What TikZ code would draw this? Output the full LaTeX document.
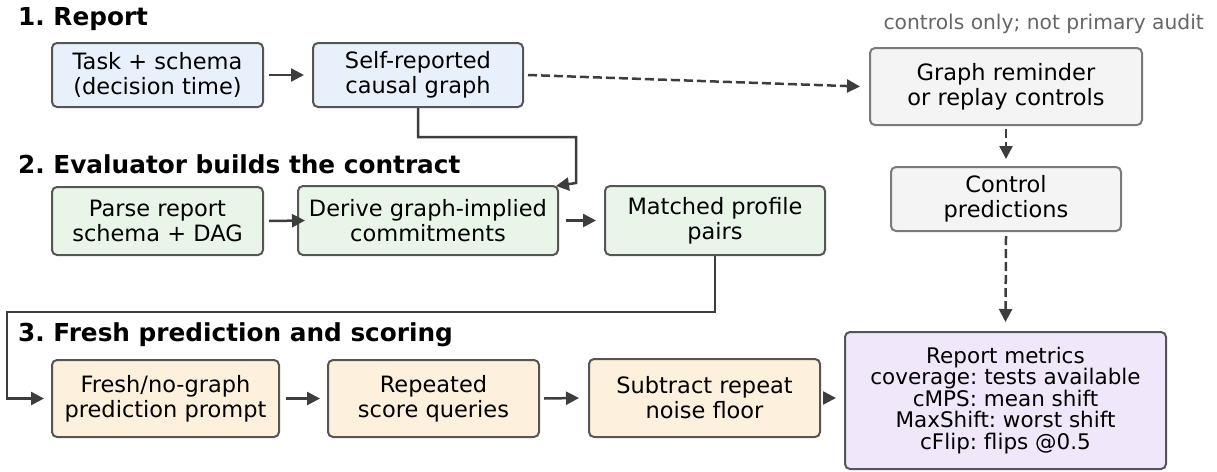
\documentclass[tikz,border=0pt]{standalone}
\usepackage{fontspec}
\setmainfont{DejaVu Sans}
\usetikzlibrary{arrows.meta}
\definecolor{bluefill}{HTML}{E8F1FB}
\definecolor{greenfill}{HTML}{E9F5E9}
\definecolor{orangefill}{HTML}{FDF0DC}
\definecolor{grayfill}{HTML}{F4F4F4}
\definecolor{purplefill}{HTML}{F0E8FA}
\definecolor{boxline}{HTML}{555555}
\definecolor{grayline}{HTML}{7A7A7A}
\definecolor{arrowcol}{HTML}{3D3D3D}
\definecolor{notecol}{HTML}{666666}
\frenchspacing
\begin{document}
\begin{tikzpicture}[x=1pt,y=-1pt,
  stagebox/.style={draw=boxline, line width=2pt, rounded corners=5pt, align=center,
    inner sep=0pt, font=\fontsize{22.5}{25}\selectfont},
  bluebox/.style={stagebox, fill=bluefill},
  greenbox/.style={stagebox, fill=greenfill},
  orangebox/.style={stagebox, fill=orangefill},
  graybox/.style={stagebox, fill=grayfill, draw=grayline},
  purplebox/.style={stagebox, fill=purplefill, font=\fontsize{21.5}{21.5}\selectfont},
  title/.style={font=\fontsize{24.75}{28}\selectfont\bfseries, anchor=base west, inner sep=0pt},
  note/.style={font=\fontsize{20.25}{24}\selectfont, text=notecol, anchor=base east, inner sep=0pt},
  arr/.style={draw=arrowcol, line width=2.5pt, -{Triangle[length=13pt,width=13pt]}},
  darr/.style={arr, dash pattern=on 9pt off 4pt},
]
\useasboundingbox (0,0) rectangle (1217,471);

% titles
\node[title] (t1) at (18,25) {1. Report};
\node[title] (t2) at (18,173) {2. Evaluator builds the contract};
\node[title] (t3) at (18,341) {3. Fresh prediction and scoring};
\node[note] (nt) at (1204,29) {controls only; not primary audit};

% row 1
\node[bluebox, minimum width=211pt, minimum height=64pt] (task) at (157.5,75) {Task + schema\\(decision time)};
\node[bluebox, minimum width=210pt, minimum height=64pt] (self) at (418,75) {Self-reported\\causal graph};
\node[graybox, minimum width=272pt, minimum height=77pt] (graph) at (1006,86.5) {Graph reminder\\or replay controls};
\node[graybox, minimum width=230pt, minimum height=64pt] (control) at (1006,199) {Control\\predictions};

% row 2
\node[greenbox, minimum width=211pt, minimum height=68pt] (parse) at (157.5,221) {Parse report\\schema + DAG};
\node[greenbox, minimum width=260pt, minimum height=69pt] (derive) at (428,220.5) {Derive graph-implied\\commitments};
\node[greenbox, minimum width=220pt, minimum height=69pt] (matched) at (715,220.5) {Matched profile\\pairs};

% row 3
\node[orangebox, minimum width=227pt, minimum height=77pt] (fresh) at (165.5,398.5) {Fresh/no-graph\\prediction prompt};
\node[orangebox, minimum width=211pt, minimum height=77pt] (repeated) at (433.5,398.5) {Repeated\\score queries};
\node[orangebox, minimum width=231pt, minimum height=78pt] (subtract) at (704.5,398) {Subtract repeat\\noise floor};
\node[purplebox, minimum width=321pt, minimum height=137pt] (report) at (1005.5,400.5)
  {Report metrics\\coverage: tests available\\cMPS: mean shift\\MaxShift: worst shift\\cFlip: flips @0.5};

% straight arrows
\draw[arr] ([xshift=5pt]task.east) -- ([xshift=-8pt]self.west);
\draw[arr] ([xshift=5pt]parse.east) -- ([xshift=8pt]derive.west);
\draw[arr] ([xshift=7pt]derive.east) -- ([xshift=-8pt]matched.west);
\draw[arr] ([xshift=6pt]fresh.east) -- ([xshift=-7pt]repeated.west);
\draw[arr] ([xshift=4pt]repeated.east) -- ([xshift=-9pt]subtract.west);
\draw[arr] ([xshift=4pt]subtract.east) -- ([xshift=-8pt]report.west |- subtract.east);

% dashed control arrows
\draw[darr] ([xshift=4pt]self.east) -- ([xshift=-9pt]graph.west);
\draw[darr] ([yshift=-3pt]graph.south) -- ([yshift=7pt]control.north);
\draw[darr] ([yshift=-4pt]control.south) -- ([yshift=9pt]report.north);

% elbow connectors
\coordinate (e1) at (576,137);
\coordinate (e2) at (576,183);
\draw[arr] (self.south) |- (e1) -- (e2) -- ([xshift=-3pt,yshift=-1pt]derive.north east);
\coordinate (m1) at (7,312);
\draw[arr] (matched.south) |- (m1) |- ([xshift=-7pt]fresh.west);
\end{tikzpicture}
\end{document}
